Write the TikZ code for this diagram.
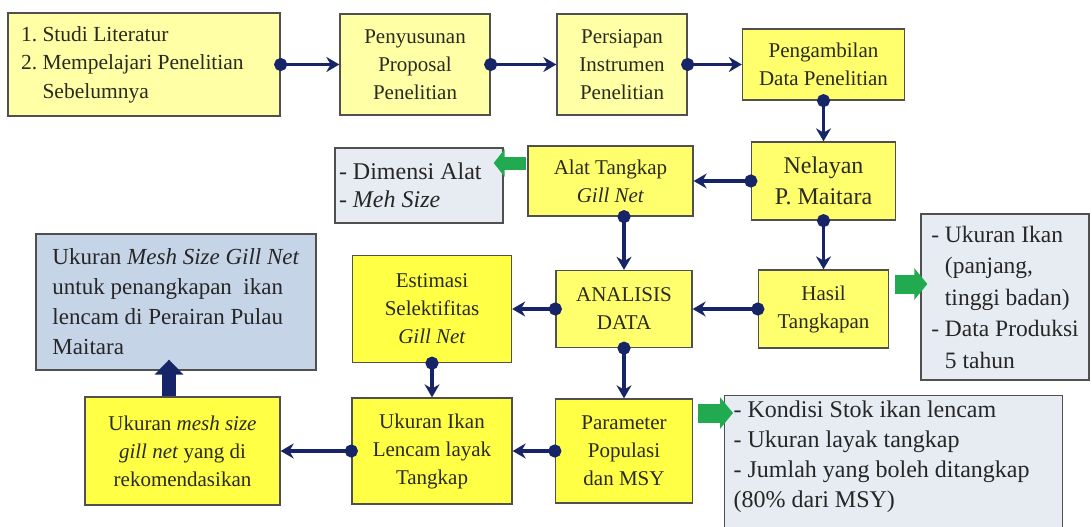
\documentclass[tikz,border=0pt]{standalone}
\usepackage{fontspec}
\setmainfont{Liberation Serif}
\usepackage{xcolor}
\usepackage{tikz}
\usetikzlibrary{positioning, arrows.meta}
\definecolor{navyline}{HTML}{172568}
\definecolor{greenblock}{HTML}{22AA50}
\definecolor{paleyellow}{HTML}{FFFFA6}
\definecolor{midyellow}{HTML}{FFFF6E}
\definecolor{boxyellow}{HTML}{FFFF45}
\definecolor{infogrey}{HTML}{E7ECF3}
\definecolor{infoblue}{HTML}{C6D4E8}
\definecolor{boxline}{HTML}{505050}
\definecolor{textdark}{HTML}{2A2A1E}
\tikzstyle{arrow} = [line width=3.5pt, draw=navyline, {Circle[length=13pt]}-{Stealth[length=13pt,width=15pt]}, shorten <=-6.5pt]
\tikzstyle{blockarrow} = [draw=greenblock, line width=19pt, -{Triangle[length=13pt,width=31pt]}]

\begin{document}
\begin{tikzpicture}[
				x=1pt, y=-1pt,
				flow/.style={draw=boxline, line width=1.3pt, fill=midyellow, text=textdark, align=center, inner sep=0pt, font=\fontsize{21}{28}\selectfont},
				info/.style={draw=boxline, line width=1.3pt, fill=infogrey, text=black!85, align=flush left, inner sep=0pt, font=\fontsize{23.5}{30}\selectfont}
				]
				\useasboundingbox (0,0) rectangle (1092,527);
				\clip (0,0) rectangle (1092,527);
				
				\node (studi) at (144,64.5) [flow, fill=paleyellow, minimum width=272pt, minimum height=103pt, align=flush left, text width=246pt, font=\fontsize{21.5}{28.5}\selectfont] {1.\ Studi Literatur\\2.\ Mempelajari Penelitian\\\phantom{2.\ }Sebelumnya};
				\node (penyusunan) at (415,64.5) [flow, fill=paleyellow, minimum width=150pt, minimum height=101pt] {Penyusunan\\Proposal\\Penelitian};
				\node (persiapan) at (622,64.5) [flow, fill=paleyellow, minimum width=130pt, minimum height=101pt] {Persiapan\\Instrumen\\Penelitian};
				\node (pengambilan) at (823.5,64.5) [flow, minimum width=162pt, minimum height=71pt] {Pengambilan\\Data Penelitian};
				\node (nelayan) at (823.5,181) [flow, minimum width=144pt, minimum height=78pt, font=\fontsize{24}{31}\selectfont] {Nelayan\\P. Maitara};
				\node (alat) at (610.5,181) [flow, minimum width=165pt, minimum height=70pt] {Alat Tangkap\\\textit{Gill Net}};
				\node (dimensi) at (419,185.5) [info, minimum width=168pt, minimum height=75pt, text width=160pt, font=\fontsize{24}{28}\selectfont] {- Dimensi Alat\\- \textit{Meh Size}};
				\node (hasil) at (823.5,309) [flow, minimum width=130pt, minimum height=78pt] {Hasil\\Tangkapan};
				\node (analisis) at (624,309) [flow, minimum width=136pt, minimum height=77pt] {ANALISIS\\DATA};
				\node (estimasi) at (432,309) [flow, fill=boxyellow, minimum width=159pt, minimum height=107pt] {Estimasi\\Selektifitas\\\textit{Gill Net}};
				\node (ukuraninfo) at (1005,297) [info, minimum width=168pt, minimum height=166pt, font=\fontsize{23.5}{31.5}\selectfont] {- Ukuran Ikan\\\phantom{- }(panjang,\\\phantom{- }tinggi badan)\\- Data Produksi\\\phantom{- }5 tahun};
				\node (temuan) at (176,302) [info, fill=infoblue, minimum width=280pt, minimum height=136pt, font=\fontsize{23}{30}\selectfont] {Ukuran \textit{Mesh Size Gill Net}\\untuk penangkapan\ \ ikan\\lencam di Perairan Pulau\\Maitara};
				\node (meshsize) at (182.5,451) [flow, fill=boxyellow, minimum width=195pt, minimum height=108pt] {Ukuran \textit{mesh size}\\\textit{gill net} yang di\\rekomendasikan};
				\node (lencam) at (432,451) [flow, fill=boxyellow, minimum width=160pt, minimum height=106pt] {Ukuran Ikan\\Lencam layak\\Tangkap};
				\node (parameter) at (624,451) [flow, fill=boxyellow, minimum width=137pt, minimum height=104pt] {Parameter\\Populasi\\dan MSY};
				\node (kondisi) at (724,395) [info, anchor=north west, minimum width=338pt, inner xsep=6pt, inner ysep=5pt, font=\fontsize{24}{30}\selectfont] {\parbox[c][142pt][t]{320pt}{- Kondisi Stok ikan lencam\\- Ukuran layak tangkap\\- Jumlah yang boleh ditangkap\\(80\% dari MSY)}};
				
				\draw[arrow] (studi.east) -- (penyusunan.west);
				\draw[arrow] (penyusunan.east) -- (persiapan.west);
				\draw[arrow] (persiapan.east) -- (pengambilan.west);
				\draw[arrow] (pengambilan.south) -- (nelayan.north);
				\draw[arrow] (nelayan.west) -- (alat.east);
				\draw[arrow] (alat.south -| analisis.north) -- (analisis.north);
				\draw[arrow] (nelayan.south) -- (hasil.north);
				\draw[arrow] (hasil.west) -- (analisis.east);
				\draw[arrow] (analisis.west) -- (estimasi.east);
				\draw[arrow] (analisis.south) -- (parameter.north);
				\draw[arrow] (estimasi.south) -- (lencam.north);
				\draw[arrow] (parameter.west) -- (lencam.east);
				\draw[arrow] (lencam.west) -- (meshsize.east);
				
				\draw[line width=14pt, draw=navyline, -{Triangle[length=15pt,width=28pt]}] ([xshift=-13.5pt]meshsize.north) -- ([xshift=-7pt,yshift=11pt]temuan.south);
				\draw[blockarrow, line width=13pt, -{Triangle[length=11pt,width=27pt]}] ([xshift=-1pt,yshift=18pt]alat.west) -- ([xshift=-10pt,yshift=22.5pt]dimensi.east);
				\draw[blockarrow] ([xshift=6pt,yshift=25pt]hasil.east) -- ([xshift=7pt,yshift=13pt]ukuraninfo.west);
				\draw[blockarrow] ([xshift=5pt,yshift=38pt]parameter.east) -- ([xshift=9pt,yshift=-18pt]kondisi.north west);
			\end{tikzpicture}
\end{document}
